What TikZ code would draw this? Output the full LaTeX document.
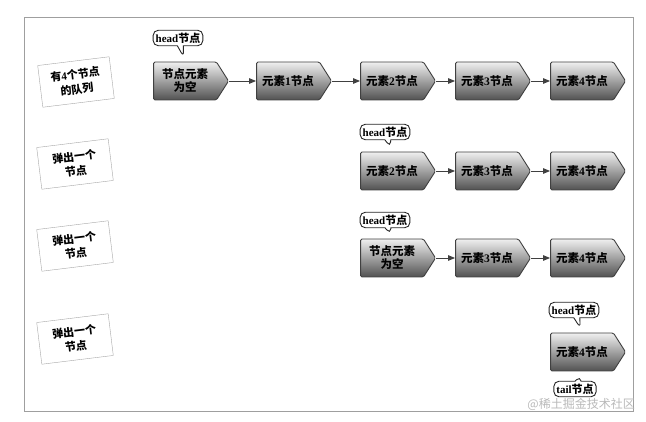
\documentclass[tikz,border=0pt]{standalone}
\usepackage{fontspec}
\setmainfont{Liberation Serif}
\newfontfamily\zhfont{Noto Sans CJK SC}
\newcommand{\zh}[1]{{\zhfont #1}}
\usetikzlibrary{arrows.meta,shapes.symbols,shapes.callouts}

\begin{document}
\begin{tikzpicture}[
    x=1pt, y=1pt,
    qnode/.style={
        signal, signal to=east, signal pointer angle=115,
        draw=black!75, line width=0.9pt,
        rounded corners=1.5pt,
        top color=gray!12, bottom color=black!68,
        minimum width=75pt, minimum height=38pt,
        inner sep=1pt,
        font=\fontsize{11.5}{13}\selectfont\bfseries,
        align=center
    },
    tag/.style={
        rectangle callout, draw=black!85, fill=white,
        rounded corners=5pt, line width=0.9pt,
        callout pointer width=6pt, callout pointer shorten=5pt,
        inner sep=2.5pt, minimum height=15pt,
        font=\fontsize{11}{12}\selectfont\bfseries
    },
    note/.style={
        draw=gray!70, fill=white, rotate=7,
        minimum width=72pt, minimum height=42pt,
        font=\fontsize{11}{15}\selectfont\bfseries,
        align=center
    },
    arrow/.style={
        -{Triangle[length=7pt,width=5.5pt]},
        line width=0.9pt,
        draw=black!75
    }
]
    \useasboundingbox (0,0) rectangle (646,-422);
    \draw[gray!75, line width=1pt] (24,-18) rectangle (633,-411);

    % queue with four nodes
    \node[note] (lbl1) at (76,-82) {\zh{有}4\zh{个节点}\\\zh{的队列}};
    \node[qnode] (a0) at (185,-81) {\zh{节点元素}\\\zh{为空}};
    \node[qnode] (a1) at (288,-81) {\zh{元素}1\zh{节点}};
    \node[qnode] (a2) at (392,-81) {\zh{元素}2\zh{节点}};
    \node[qnode] (a3) at (487,-81) {\zh{元素}3\zh{节点}};
    \node[qnode] (a4) at (582,-81) {\zh{元素}4\zh{节点}};
    \node[tag, callout absolute pointer=(a0.north)] (ha) at (178,-38) {head\zh{节点}};
    \draw[arrow] (a0.east) -- (a1.west);
    \draw[arrow] (a1.east) -- (a2.west);
    \draw[arrow] (a2.east) -- (a3.west);
    \draw[arrow] (a3.east) -- (a4.west);

    % after first pop
    \node[note] (lbl2) at (75,-164) {\zh{弹出一个}\\\zh{节点}};
    \node[qnode] (b2) at (392,-171) {\zh{元素}2\zh{节点}};
    \node[qnode] (b3) at (487,-171) {\zh{元素}3\zh{节点}};
    \node[qnode] (b4) at (582,-171) {\zh{元素}4\zh{节点}};
    \node[tag, callout absolute pointer=(b2.north)] (hb) at (385,-132) {head\zh{节点}};
    \draw[arrow] (b2.east) -- (b3.west);
    \draw[arrow] (b3.east) -- (b4.west);

    % after second pop
    \node[note] (lbl3) at (75,-246) {\zh{弹出一个}\\\zh{节点}};
    \node[qnode] (c2) at (392,-258) {\zh{节点元素}\\\zh{为空}};
    \node[qnode] (c3) at (487,-258) {\zh{元素}3\zh{节点}};
    \node[qnode] (c4) at (582,-258) {\zh{元素}4\zh{节点}};
    \node[tag, callout absolute pointer=(c2.north)] (hc) at (385,-220) {head\zh{节点}};
    \draw[arrow] (c2.east) -- (c3.west);
    \draw[arrow] (c3.east) -- (c4.west);

    % after third pop
    \node[note] (lbl4) at (75,-339) {\zh{弹出一个}\\\zh{节点}};
    \node[qnode] (d4) at (582,-352) {\zh{元素}4\zh{节点}};
    \node[tag, callout absolute pointer=(d4.north)] (hd) at (574,-310) {head\zh{节点}};
    \node[tag, callout absolute pointer=(d4.south)] (td) at (575,-389) {tail\zh{节点}};

    \node[text=gray!55, font=\zhfont\fontsize{12}{12}\selectfont, anchor=north east, inner sep=0pt] (wm) at (635,-398.5) {@稀土掘金技术社区};
\end{tikzpicture}
\end{document}
